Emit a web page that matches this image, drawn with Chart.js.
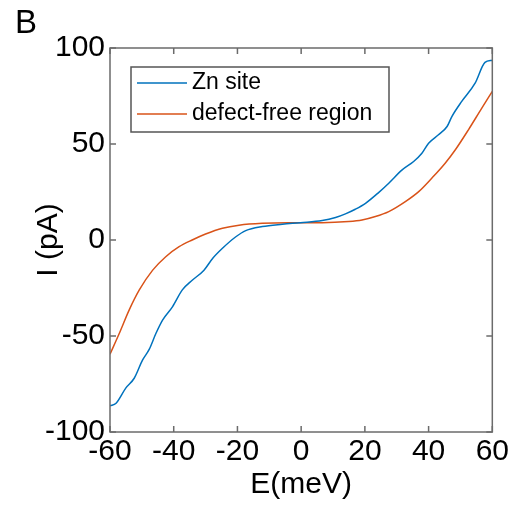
<!DOCTYPE html>
<html lang="en">
<head>
    <meta charset="UTF-8">
    <title>I-V curves</title>
    <script src="https://cdn.jsdelivr.net/npm/chart.js"></script>
    <style>
        html, body { margin: 0; padding: 0; background: #fff; }
        canvas { display: block; }
    </style>
</head>
<body>
    <canvas id="myChart" width="511" height="507"></canvas>
    <script>
        // E (meV) and I (pA)
        var znE = [-60, -58.1, -55, -52.4, -49.8, -47.7, -45.6, -43.5, -40.4, -37.3, -34.2, -30.5, -27.8, -24.7, -20.5, -17.4, -12.2, -5.9, -0.2, 6.6, 10.8, 13.9, 17, 20.2, 24.3, 27.5, 31.7, 35.3, 37.9, 40, 43.1, 45.8, 47.3, 50.4, 54.6, 57.7, 60];
        var znI = [-86.4, -85, -77, -72, -62.6, -57, -48.7, -41.7, -34.8, -26, -21, -15.7, -9.6, -4.3, 1.7, 4.9, 7, 8.2, 9, 10.1, 11.7, 13.6, 16, 19.1, 24.7, 29.6, 36.5, 40.9, 45.2, 50.4, 54.8, 59.1, 64.3, 72.2, 81.7, 92.5, 93.6];

        var freeE = [-60, -57.1, -54, -50.8, -46.6, -42.5, -38.3, -34.2, -30, -24.7, -19.5, -12.2, -3.9, 6.6, 14.9, 19.1, 23.3, 27.5, 32.7, 36.9, 41, 45.2, 48.4, 52.5, 56.7, 60];
        var freeI = [-59.5, -48.7, -36.5, -26, -15.7, -8.7, -3.5, 0, 3.1, 6.1, 7.7, 8.7, 9, 9, 9.6, 10.4, 12.2, 14.8, 20, 25.2, 32.2, 40, 47, 57.4, 68.7, 77.4];

        var xTicks = [-60, -40, -20, 0, 20, 40, 60];
        var yTicks = [-100, -50, 0, 50, 100];
        var seriesNames = ['Zn site', 'defect-free region'];

        var fontFam = "'Liberation Sans', Arial, sans-serif";
        var axisColor = '#6b6b6b';

        function toPoints(xs, ys) {
            return xs.map(function (x, i) { return { x: x, y: ys[i] }; });
        }

        // inward ticks on all four sides + top/right border
        var boxPlugin = {
            id: 'boxTicks',
            afterDatasetsDraw: function (chart) {
                var ctx = chart.ctx, a = chart.chartArea;
                var xs = chart.scales.x, ys = chart.scales.y;
                var len = 6;
                ctx.save();
                ctx.strokeStyle = axisColor;
                ctx.lineWidth = 1.5;
                ctx.beginPath();
                xTicks.forEach(function (v) {
                    var px = xs.getPixelForValue(v);
                    ctx.moveTo(px, a.bottom); ctx.lineTo(px, a.bottom - len);
                    ctx.moveTo(px, a.top); ctx.lineTo(px, a.top + len);
                });
                yTicks.forEach(function (v) {
                    var py = ys.getPixelForValue(v);
                    ctx.moveTo(a.left, py); ctx.lineTo(a.left + len, py);
                    ctx.moveTo(a.right, py); ctx.lineTo(a.right - len, py);
                });
                ctx.stroke();
                ctx.strokeRect(a.left, a.top, a.right - a.left, a.bottom - a.top);

                // legend box inside the axes
                var lx = a.left + 21, ly = a.top + 19, lw = 258, lh = 65;
                ctx.fillStyle = '#fff';
                ctx.fillRect(lx, ly, lw, lh);
                ctx.strokeStyle = '#555';
                ctx.lineWidth = 1.5;
                ctx.strokeRect(lx, ly, lw, lh);
                ctx.font = '23px ' + fontFam;
                ctx.textBaseline = 'middle';
                chart.data.datasets.forEach(function (ds, i) {
                    var yy = ly + 16 + i * 31;
                    ctx.strokeStyle = ds.borderColor;
                    ctx.lineWidth = 1.5;
                    ctx.beginPath();
                    ctx.moveTo(lx + 6, yy);
                    ctx.lineTo(lx + 56, yy);
                    ctx.stroke();
                    ctx.fillStyle = '#000';
                    ctx.fillText(ds.label, lx + 61, yy);
                });
                ctx.restore();
            }
        };

        var ctx = document.getElementById('myChart').getContext('2d');
        var chartInstance = new Chart(ctx, {
            type: 'line',
            data: {
                datasets: [{
                    label: seriesNames[0],
                    data: toPoints(znE, znI),
                    borderColor: '#0072BD',
                    borderWidth: 1.5,
                    pointRadius: 0,
                    cubicInterpolationMode: 'monotone',
                    fill: false
                }, {
                    label: seriesNames[1],
                    data: toPoints(freeE, freeI),
                    borderColor: '#D95319',
                    borderWidth: 1.5,
                    pointRadius: 0,
                    cubicInterpolationMode: 'monotone',
                    fill: false
                }]
            },
            options: {
                responsive: false,
                animation: false,
                layout: { padding: { left: 15, right: 18, top: 0, bottom: 0 } },
                plugins: {
                    legend: { display: false },
                    tooltip: { enabled: false },
                    title: {
                        display: true,
                        text: 'B',
                        align: 'start',
                        color: '#000',
                        font: { family: fontFam, size: 33, weight: 'normal', lineHeight: 1.2 },
                        padding: { top: 4.2, bottom: 4.2 }
                    }
                },
                scales: {
                    x: {
                        type: 'linear',
                        min: -60,
                        max: 60,
                        afterBuildTicks: function (s) { s.ticks = xTicks.map(function (v) { return { value: v }; }); },
                        afterFit: function (s) { s.height = 75; },
                        ticks: {
                            color: '#000',
                            padding: 2,
                            maxRotation: 0,
                            autoSkip: false,
                            font: { family: fontFam, size: 30, lineHeight: 1.2 }
                        },
                        grid: { drawOnChartArea: false, drawTicks: false },
                        border: { display: false },
                        title: {
                            display: true,
                            text: 'E(meV)',
                            color: '#000',
                            font: { family: fontFam, size: 30, lineHeight: 1.2 },
                            padding: { top: 0, bottom: 4.5 }
                        }
                    },
                    y: {
                        type: 'linear',
                        min: -100,
                        max: 100,
                        afterBuildTicks: function (s) { s.ticks = yTicks.map(function (v) { return { value: v }; }); },
                        afterFit: function (s) { s.width = 95; },
                        ticks: {
                            color: '#000',
                            padding: 5,
                            autoSkip: false,
                            font: { family: fontFam, size: 30, lineHeight: 1.2 }
                        },
                        grid: { drawOnChartArea: false, drawTicks: false },
                        border: { display: false },
                        title: {
                            display: true,
                            text: 'I (pA)',
                            color: '#000',
                            font: { family: fontFam, size: 30, lineHeight: 1.2 },
                            padding: { top: 16, bottom: 0 }
                        }
                    }
                }
            },
            plugins: [boxPlugin]
        });
    </script>
</body>
</html>
